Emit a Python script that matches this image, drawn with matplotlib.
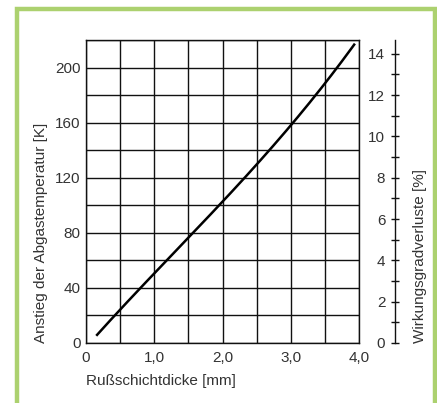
import matplotlib
matplotlib.use("Agg")
import matplotlib.pyplot as plt
import numpy as np
from matplotlib.patches import Rectangle
from matplotlib.ticker import MultipleLocator, FixedLocator

plt.rcParams['font.family'] = ['Liberation Sans', 'DejaVu Sans']

# Data
thickness_mm = [0.15, 0.42, 0.80, 1.17, 1.56, 1.95, 2.36, 2.69, 3.02, 3.355, 3.67, 3.94]
temp_rise_K = [5, 20, 40, 60, 80, 100, 120, 140, 160, 180, 200, 216.5]
x_ticks = [0, 1.0, 2.0, 3.0, 4.0]
x_tick_labels = ['0', '1,0', '2,0', '3,0', '4,0']
y_ticks = [0, 40, 80, 120, 160, 200]
right_ticks = [0, 2, 4, 6, 8, 10, 12, 14]
K_per_percent = 15.0

W, H = 437, 403
fig = plt.figure(figsize=(W / 100, H / 100), dpi=100)
fig.patch.set_facecolor('white')

def fx(px):
    return px / W

def fy(py):
    return 1 - py / H

FS = 11
TXT = '#333333'

# green frame
fig.patches.append(Rectangle((fx(17), fy(420)), fx(418), (420 - 9) / H,
                             transform=fig.transFigure, fill=False,
                             edgecolor='#acd16f', linewidth=3.2, clip_on=False))

left, right, top, bottom = 86, 359, 40, 343
ax = fig.add_axes([fx(left), fy(bottom), fx(right - left), (bottom - top) / H])

# smooth curve through points
xs = np.array(thickness_mm)
ys = np.array(temp_rise_K)
coef = np.polyfit(xs, ys, 3)
xx = np.linspace(xs[0], xs[-1], 200)
ax.plot(xx, np.polyval(coef, xx), color='black', linewidth=1.8, solid_capstyle='butt')

ax.set_xlim(0, 4.0)
ax.set_ylim(0, 220)
ax.xaxis.set_major_locator(FixedLocator(x_ticks))
ax.xaxis.set_ticklabels(x_tick_labels)
ax.yaxis.set_major_locator(FixedLocator(y_ticks))
ax.xaxis.set_minor_locator(MultipleLocator(0.5))
ax.yaxis.set_minor_locator(MultipleLocator(20))
ax.grid(True, which='both', color='#111111', linewidth=1.0)
ax.set_axisbelow(True)
for s in ax.spines.values():
    s.set_color('#111111')
    s.set_linewidth(1.0)
ax.tick_params(which='both', length=0, labelsize=FS, colors=TXT)
ax.tick_params(axis='x', pad=6)
ax.tick_params(axis='y', pad=4)
ax.set_xlabel('Rußschichtdicke [mm]', loc='left', fontsize=FS, color=TXT, labelpad=6)
ax.set_ylabel('Anstieg der Abgastemperatur [K]', loc='bottom', fontsize=FS, color=TXT, labelpad=5)

# right axis: separate spine at x=395
sx = 395
ax2 = fig.add_axes([fx(sx), fy(bottom), fx(1), (bottom - top) / H])
ax2.patch.set_alpha(0)
ax2.set_ylim(0, 220 / K_per_percent)
ax2.set_xticks([])
for k in ['top', 'bottom', 'right']:
    ax2.spines[k].set_visible(False)
ax2.spines['left'].set_color('#111111')
ax2.spines['left'].set_linewidth(1.0)
ax2.yaxis.set_major_locator(FixedLocator(right_ticks))
ax2.yaxis.set_minor_locator(MultipleLocator(1))
ax2.tick_params(axis='y', which='both', direction='inout', length=6, width=1.0,
                colors='#111111', labelcolor=TXT, labelsize=FS, pad=4)
ax2.yaxis.set_label_position('right')
ax2.set_ylabel('Wirkungsgradverluste [%]', loc='bottom', fontsize=FS, color=TXT, labelpad=12)

fig.savefig('out.png', dpi=100)
